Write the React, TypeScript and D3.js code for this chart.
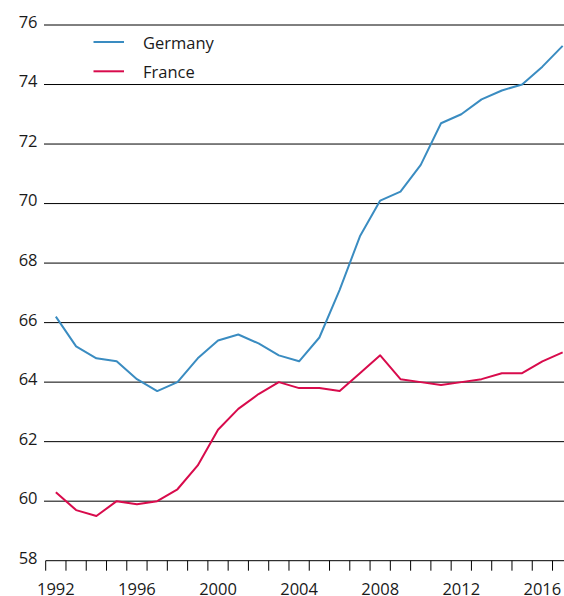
import React, { useEffect, useRef } from "react";
import { select, scaleBand, scaleLinear, line, range } from "d3";

const years = range(1992, 2018);
const germany = [
  66.2, 65.2, 64.8, 64.7, 64.1, 63.7, 64.0, 64.8, 65.4, 65.6, 65.3, 64.9, 64.7,
  65.5, 67.1, 68.9, 70.1, 70.4, 71.3, 72.7, 73.0, 73.5, 73.8, 74.0, 74.6, 75.3
];
const france = [
  60.3, 59.7, 59.5, 60.0, 59.9, 60.0, 60.4, 61.2, 62.4, 63.1, 63.6, 64.0, 63.8,
  63.8, 63.7, 64.3, 64.9, 64.1, 64.0, 63.9, 64.0, 64.1, 64.3, 64.3, 64.7, 65.0
];
const yTicks = [58, 60, 62, 64, 66, 68, 70, 72, 74, 76];
const xLabels = [1992, 1996, 2000, 2004, 2008, 2012, 2016];

const series = [
  { name: "Germany", values: germany, color: "#3a8cc1" },
  { name: "France", values: france, color: "#d80b4c" }
];

const W = 564;
const H = 596;
const FONT = "'Open Sans', 'Noto Sans', sans-serif";

const App = () => {
  const svgRef = useRef<SVGSVGElement>(null);

  useEffect(() => {
    const svg = select(svgRef.current);
    svg.selectAll("*").remove();

    const x = scaleBand<number>().domain(years).range([45.7, 572.8]);
    const y = scaleLinear().domain([58, 76]).range([560.7, 25]);
    const right = 572.8;

    // gridlines (58 is the axis line itself)
    svg
      .append("g")
      .selectAll("line")
      .data(yTicks.filter(d => d > 58))
      .join("line")
      .attr("x1", 44)
      .attr("x2", right)
      .attr("y1", d => y(d))
      .attr("y2", d => y(d))
      .attr("stroke", "#000")
      .attr("stroke-width", 1);

    // y labels
    svg
      .append("g")
      .selectAll("text")
      .data(yTicks)
      .join("text")
      .attr("x", 37.5)
      .attr("y", d => y(d) + 2.9)
      .attr("text-anchor", "end")
      .attr("font-family", FONT)
      .attr("font-size", 16.5)
      .attr("fill", "#1a1a1a")
      .text(d => d);

    // x axis
    const axis = svg.append("g");
    axis
      .append("line")
      .attr("x1", x(1992)!)
      .attr("x2", right)
      .attr("y1", y(58))
      .attr("y2", y(58))
      .attr("stroke", "#000");
    axis
      .selectAll("line.tick")
      .data(years)
      .join("line")
      .attr("class", "tick")
      .attr("x1", d => x(d)!)
      .attr("x2", d => x(d)!)
      .attr("y1", y(58))
      .attr("y2", y(58) + 10)
      .attr("stroke", "#000");
    axis
      .selectAll("text")
      .data(xLabels)
      .join("text")
      .attr("x", d => x(d)! + x.bandwidth() / 2)
      .attr("y", 594.5)
      .attr("text-anchor", "middle")
      .attr("font-family", FONT)
      .attr("font-size", 16.5)
      .attr("fill", "#1a1a1a")
      .text(d => d);

    // lines
    const gen = line<number>()
      .x((_, i) => x(years[i])! + x.bandwidth() / 2)
      .y(d => y(d));
    svg
      .append("g")
      .selectAll("path")
      .data(series)
      .join("path")
      .attr("fill", "none")
      .attr("stroke", s => s.color)
      .attr("stroke-width", 2)
      .attr("stroke-linejoin", "round")
      .attr("d", s => gen(s.values));

    // legend
    const legend = svg
      .append("g")
      .selectAll("g")
      .data(series)
      .join("g")
      .attr("transform", (_, i) => `translate(0, ${42 + i * 29.3})`);
    legend
      .append("line")
      .attr("x1", 93.5)
      .attr("x2", 124)
      .attr("stroke", s => s.color)
      .attr("stroke-width", 2);
    legend
      .append("text")
      .attr("x", 143)
      .attr("y", 7)
      .attr("font-family", FONT)
      .attr("font-size", 16.5)
      .attr("fill", "#1a1a1a")
      .text(s => s.name);
  }, []);

  return (
    <svg
      ref={svgRef}
      width={W}
      height={H}
      style={{ position: "absolute", left: 0, top: 0, overflow: "hidden", background: "#fff" }}
    />
  );
};

export default App;
